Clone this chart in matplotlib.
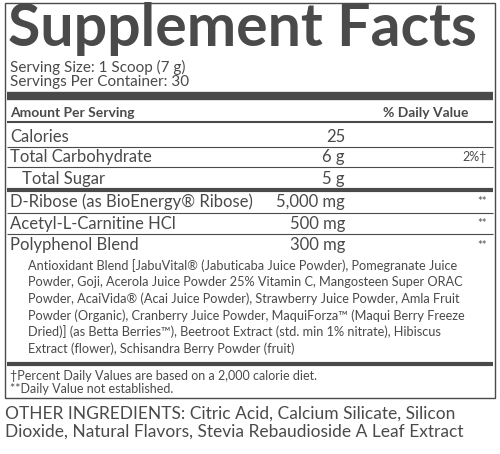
import matplotlib
matplotlib.use("Agg")
import matplotlib.pyplot as plt

nutrients = ["Calories", "Total Carbohydrate", "Total Sugar", "D-Ribose (as BioEnergy® Ribose)",
             "Acetyl-L-Carnitine HCl", "Polyphenol Blend"]
amounts = ["25", "6 g", "5 g", "5,000 mg", "500 mg", "300 mg"]
daily = ["", "2%†", "", "**", "**", "**"]
blend_lines = [
    "Antioxidant Blend [JabuVital® (Jabuticaba Juice Powder), Pomegranate Juice",
    "Powder, Goji, Acerola Juice Powder 25% Vitamin C, Mangosteen Super ORAC",
    "Powder, AcaiVida® (Acai Juice Powder), Strawberry Juice Powder, Amla Fruit",
    "Powder (Organic), Cranberry Juice Powder, MaquiForza™ (Maqui Berry Freeze",
    "Dried)] (as Betta Berries™), Beetroot Extract (std. min 1% nitrate), Hibiscus",
    "Extract (flower), Schisandra Berry Powder (fruit)",
]
footnotes = ["†Percent Daily Values are based on a 2,000 calorie diet.",
             "**Daily Value not established."]
other = ["OTHER INGREDIENTS: Citric Acid, Calcium Silicate, Silicon",
         "Dioxide, Natural Flavors, Stevia Rebaudioside A Leaf Extract"]

plt.rcParams['font.family'] = ['Lato', 'DejaVu Sans']
C = "#4a4a4a"
fig = plt.figure(figsize=(5, 4.54), dpi=100)
ax = fig.add_axes([0, 0, 1, 1])
ax.set_xlim(0, 500); ax.set_ylim(454, 0); ax.axis("off")

def hline(y, lw):
    ax.plot([7, 493], [y, y], color=C, lw=lw, solid_capstyle="butt")

ax.add_patch(plt.Rectangle((5, 3), 490, 395, fill=False, ec=C, lw=1))
ax.text(8, 29, "Supplement Facts", fontsize=42.5, fontweight="bold", color=C, va="center")
ax.text(10, 67, "Serving Size: 1 Scoop (7 g)", fontsize=11, color=C, va="center")
ax.text(10, 82, "Servings Per Container: 30", fontsize=11, color=C, va="center")
hline(96, 6)
ax.text(10, 113, "Amount Per Serving", fontsize=10, fontweight="bold", color=C, va="center")
ax.text(383, 113, "% Daily Value", fontsize=10, fontweight="bold", color=C, va="center")
hline(122, 1.5)

ys = [137, 157, 179, 202, 224, 245]
lines_after = [(147, 0.8), (167, 0.8), (190, 3), (213, 0.8), (234, 0.8)]
for i, (n, a, d) in enumerate(zip(nutrients, amounts, daily)):
    x = 22 if n == "Total Sugar" else 10
    ax.text(x, ys[i], n, fontsize=12, color=C, va="center")
    ax.text(345, ys[i], a, fontsize=12, color=C, va="center", ha="right")
    ax.text(487, ys[i], d, fontsize=8 if d == "**" else 9, color=C, va="center", ha="right")
for y, lw in lines_after:
    hline(y, lw)

for j, t in enumerate(blend_lines):
    ax.text(28, 266 + j * 16.5, t, fontsize=9.2, color=C, va="center")
hline(364, 3)
for j, t in enumerate(footnotes):
    ax.text(10, 376 + j * 13, t, fontsize=9, color=C, va="center")
for j, t in enumerate(other):
    ax.text(5, 414 + j * 18, t, fontsize=12.5, color=C, va="center")

fig.savefig("out.png", dpi=100)
